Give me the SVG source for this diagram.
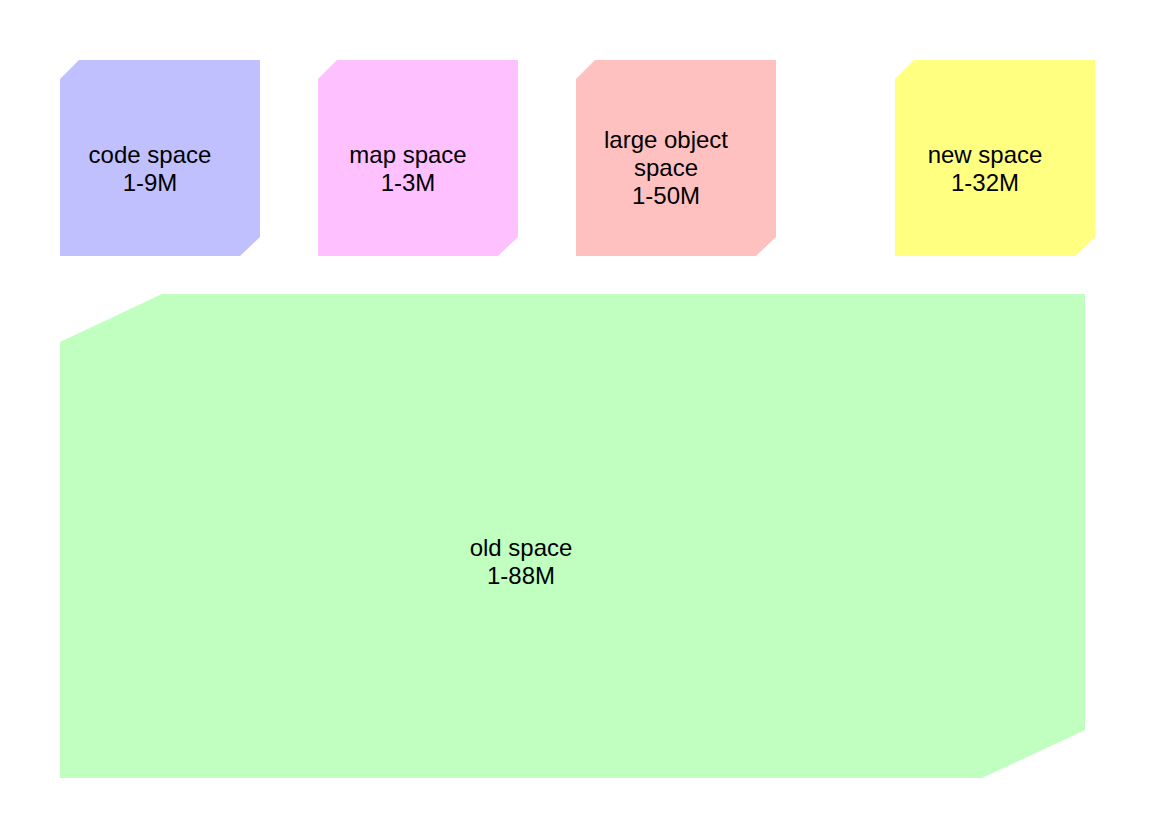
<svg xmlns="http://www.w3.org/2000/svg" width="1156" height="840" viewBox="0 0 1156 840">
<style>
text{font-family:"Liberation Sans",Arial,Helvetica,sans-serif;font-size:24px;fill:#000;text-anchor:middle}
</style>
<rect width="1156" height="840" fill="#fff"/>
<g id="code-space">
<polygon points="79,60 260,60 260,237 240,256 60,256 60,79" fill="#c0c0ff"/>
<text><tspan x="150" y="163">code space</tspan><tspan x="150" y="191">1-9M</tspan></text>
</g>
<g id="map-space">
<polygon points="337,60 518,60 518,237 498,256 318,256 318,79" fill="#ffc0ff"/>
<text><tspan x="408" y="163">map space</tspan><tspan x="408" y="191">1-3M</tspan></text>
</g>
<g id="large-object-space">
<polygon points="595,60 776,60 776,237 756,256 576,256 576,79" fill="#ffc0c0"/>
<text><tspan x="666" y="148">large object</tspan><tspan x="666" y="176">space</tspan><tspan x="666" y="204">1-50M</tspan></text>
</g>
<g id="new-space">
<polygon points="914,60 1095,60 1095,237 1075,256 895,256 895,79" fill="#ffff80"/>
<text><tspan x="985" y="163">new space</tspan><tspan x="985" y="191">1-32M</tspan></text>
</g>
<g id="old-space">
<polygon points="162,294 1085,294 1085,730 982,778 60,778 60,342" fill="#c0ffc0"/>
<text><tspan x="521" y="556">old space</tspan><tspan x="521" y="584">1-88M</tspan></text>
</g>
<g id="connectors"></g>
</svg>
